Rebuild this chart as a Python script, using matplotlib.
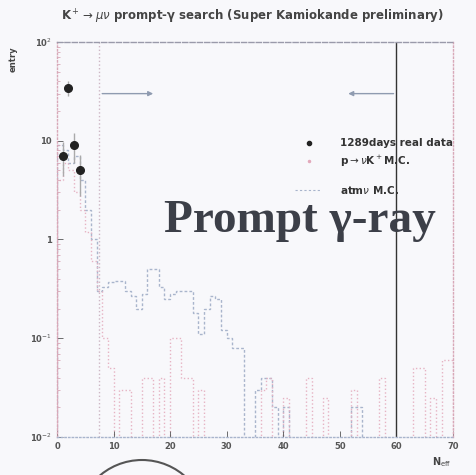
import numpy as np
import matplotlib.pyplot as plt
from matplotlib.patches import Ellipse

# data: entries vs N_hit, bins of width 1
edges = np.arange(0, 71)

# atmospheric neutrino MC
atm_mc = [9, 8, 6, 7, 4, 2, 1.0, 0.3, 0.33, 0.37,
          0.38, 0.38, 0.3, 0.27, 0.2, 0.28, 0.5, 0.5, 0.33, 0.25,
          0.28, 0.3, 0.3, 0.3, 0.18, 0.11, 0.2, 0.27, 0.25, 0.12,
          0.1, 0.08, 0.08, 0, 0, 0.03, 0.04, 0.04, 0.02, 0,
          0.02, 0, 0, 0, 0, 0, 0, 0, 0, 0,
          0, 0, 0.02, 0.02, 0, 0, 0, 0, 0, 0,
          0, 0, 0, 0, 0, 0, 0, 0, 0, 0]

# p -> nu K+ MC
pk_mc = [4, 6, 5, 3, 2, 1.2, 0.6, 0.3, 0.1, 0.05,
         0, 0.03, 0.03, 0, 0, 0.04, 0.04, 0, 0.04, 0,
         0.1, 0.1, 0.04, 0.04, 0, 0.03, 0, 0, 0, 0,
         0, 0, 0, 0, 0, 0, 0.03, 0.04, 0, 0,
         0.025, 0, 0, 0, 0.04, 0, 0, 0.025, 0, 0,
         0, 0, 0.03, 0, 0, 0, 0, 0.04, 0, 0,
         0, 0, 0, 0.05, 0.05, 0, 0.025, 0, 0.06, 0.06]

# real data
data_x = [1, 2, 3, 4]
data_y = [7, 34, 9, 5]

cut_low = 7.5
cut_high = 60

bg = '#f8f8fb'
fig = plt.figure(figsize=(4.77, 4.75), dpi=100, facecolor=bg)
ax = fig.add_axes([0.1195, 0.08, 0.83, 0.8316], facecolor=bg)

def clip0(v):
    v = np.array(v, dtype=float)
    return np.where(v > 0, v, 1e-3)

ax.stairs(clip0(atm_mc), edges, color='#a9b5cc', lw=1.0, ls=(0, (2, 1.5)))
ax.stairs(clip0(pk_mc), edges, color='#e6b3c3', lw=1.0, ls=':')

err = np.sqrt(data_y)
ax.errorbar(data_x, data_y, yerr=err, fmt='o', color='#222222', ms=5.5,
            ecolor='#aaaaaa', elinewidth=1.0, capsize=0)

ax.axvline(cut_low, color='#cdb6c4', lw=1.0, ls=':')
ax.axvline(cut_high, color='#333333', lw=1.0)

# selection window arrows
ax.annotate('', xy=(17.5, 30), xytext=(cut_low, 30),
            arrowprops=dict(arrowstyle='-|>', color='#8f9bb0', lw=1.0, mutation_scale=7))
ax.annotate('', xy=(51, 30), xytext=(cut_high, 30),
            arrowprops=dict(arrowstyle='-|>', color='#8f9bb0', lw=1.0, mutation_scale=7))

ax.set_yscale('log')
ax.set_xlim(0, 70)
ax.set_ylim(1e-2, 1e2)
ax.set_xticks(range(0, 71, 10))
ax.set_yticks([1e-2, 1e-1, 1, 10, 1e2])
ax.set_yticklabels(['10$^{-2}$', '10$^{-1}$', '1', '10', '10$^{2}$'])
ax.tick_params(direction='in', labelsize=6, colors='#555555', length=4, width=0.6)
ax.tick_params(which='minor', direction='in', length=2, colors='#d8a8b8')
for lbl in ax.get_xticklabels() + ax.get_yticklabels():
    lbl.set_fontweight('bold')

for side, col, st in [('left', '#d8a8b8', ':'), ('right', '#d8a8b8', ':'),
                      ('top', '#9a9aaa', '--'), ('bottom', '#a8b4cc', ':')]:
    ax.spines[side].set_color(col)
    ax.spines[side].set_linestyle(st)
    ax.spines[side].set_linewidth(1.0)

# legend
ax.plot([44.5], [9.5], 'o', color='#222222', ms=3)
ax.plot([44.5], [6.2], '.', color='#e2a9bb', ms=3)
ax.plot([42, 46.5], [3.2, 3.2], color='#a8b4cc', lw=0.8, ls=(0, (2, 2)))
ax.text(50, 9.5, '1289days real data', fontsize=7.5, fontweight='bold', color='#333333', va='center')
ax.text(50, 6.2, 'p$\\rightarrow\\nu$K$^+$M.C.', fontsize=7.5, fontweight='bold', color='#333333', va='center')
ax.text(50, 3.2, 'atm$\\nu$ M.C.', fontsize=7.5, fontweight='bold', color='#333333', va='center')

ax.text(43, 1.55, 'Prompt γ-ray', fontsize=34, fontweight='bold', color='#3c3f48',
        family=['Liberation Serif', 'DejaVu Serif'], ha='center', va='center')

fig.text(0.53, 0.964, 'K$^+\\rightarrow\\mu\\nu$ prompt-γ search (Super Kamiokande preliminary)',
         fontsize=8.5, fontweight='bold', color='#444444', ha='center', va='center')
fig.text(0.028, 0.875, 'entry', fontsize=6, fontweight='bold', color='#444444',
         rotation=90, ha='center', va='center')
fig.text(0.925, 0.028, 'N$_{\\rm eff}$', fontsize=7, fontweight='bold', color='#444444',
         ha='center', va='center')

# partial circle below the frame
fig.add_artist(Ellipse((142 / 477, 1 - 525 / 475), 130 / 477, 130 / 475,
                       transform=fig.transFigure, fill=False, ec='#555555', lw=1.5))

fig.savefig('out.png', dpi=100, facecolor=bg)
